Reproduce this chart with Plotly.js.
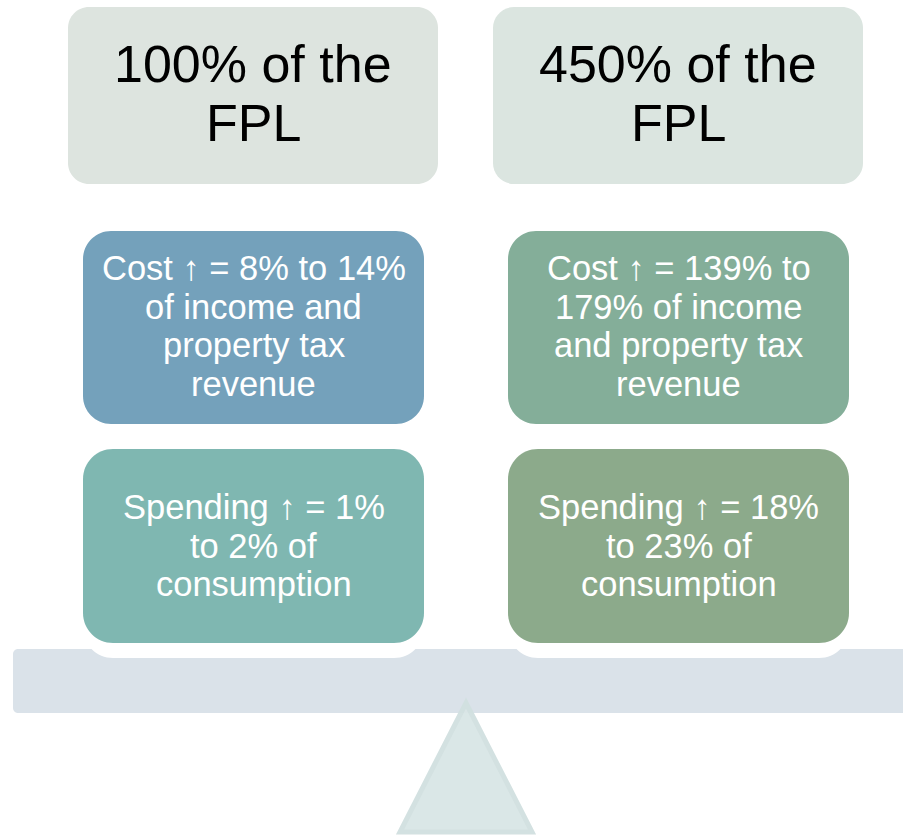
<!DOCTYPE html>
<html>
<head>
<meta charset="utf-8">
<script src="https://cdn.plot.ly/plotly-3.0.1.min.js"></script>
<style>html,body{margin:0;padding:0;background:#fff;overflow:hidden}</style>
</head>
<body>
<div id="chart" style="width:903px;height:836px"></div>
<script>
// ---- data ----
const categories = ["100% of the FPL", "450% of the FPL"];
const headerLines = [["100% of the", "FPL"], ["450% of the", "FPL"]];
const costLines = [
  ["Cost ↑ = 8% to 14%", "of income and", "property tax", "revenue"],
  ["Cost ↑ = 139% to", "179% of income", "and property tax", "revenue"]
];
const spendingLines = [
  ["Spending ↑ = 1%", "to 2% of", "consumption"],
  ["Spending ↑ = 18%", "to 23% of", "consumption"]
];
const headerColors = ["#dde4df", "#dbe5e0"];
const costColors = ["#74a1bb", "#84ae99"];
const spendingColors = ["#7fb7b1", "#8caa8b"];

// ---- layout geometry ----
const FONT = "Liberation Sans, Arial, sans-serif";
const headerBoxes = [[68, 7, 438, 184], [493, 7, 863, 184]];
const costBoxes = [[83, 231, 424, 424], [508, 231, 849, 424]];
const spendBoxes = [[83, 449, 424, 643], [508, 449, 849, 643]];

function rrect(x0, y0, x1, y1, r) {
  const k = 0.5523 * r;
  return `M${x0 + r},${y0} L${x1 - r},${y0} C${x1 - r + k},${y0} ${x1},${y0 + r - k} ${x1},${y0 + r} ` +
    `L${x1},${y1 - r} C${x1},${y1 - r + k} ${x1 - r + k},${y1} ${x1 - r},${y1} ` +
    `L${x0 + r},${y1} C${x0 + r - k},${y1} ${x0},${y1 - r + k} ${x0},${y1 - r} ` +
    `L${x0},${y0 + r} C${x0},${y0 + r - k} ${x0 + r - k},${y0} ${x0 + r},${y0} Z`;
}

const shapes = [];
const annotations = [];

// beam
shapes.push({type: "path", xref: "x", yref: "y", path: rrect(13, 649, 940, 713, 5),
  fillcolor: "#dae2e9", line: {width: 0}, layer: "above"});

// fulcrum
shapes.push({type: "path", xref: "x", yref: "y",
  path: "M466,703 L532,832 L400,832 Z",
  fillcolor: "#d9e6e6", opacity: 0.95, line: {color: "#d1e0e0", width: 5}, layer: "above"});

function addText(lines, box, size, spacing, color, shift) {
  const cx = (box[0] + box[2]) / 2;
  const cy = (box[1] + box[3]) / 2 + shift;
  const n = lines.length;
  lines.forEach((t, i) => {
    annotations.push({
      xref: "x", yref: "y", x: cx, y: cy + (i - (n - 1) / 2) * spacing,
      text: t, showarrow: false, xanchor: "center", yanchor: "middle",
      borderpad: 0, borderwidth: 0,
      font: {family: FONT, size: size, color: color}
    });
  });
}

categories.forEach((c, i) => {
  const hb = headerBoxes[i], cb = costBoxes[i], sb = spendBoxes[i];
  shapes.push({type: "path", xref: "x", yref: "y", path: rrect(hb[0], hb[1], hb[2], hb[3], 21),
    fillcolor: headerColors[i], line: {width: 0}, layer: "above"});
  shapes.push({type: "path", xref: "x", yref: "y", path: rrect(cb[0], cb[1], cb[2], cb[3], 28),
    fillcolor: costColors[i], line: {width: 0}, layer: "above"});
  // white halo behind the lower box, cutting into the beam
  shapes.push({type: "path", xref: "x", yref: "y", path: rrect(sb[0], sb[1], sb[2], sb[3] + 15, 30),
    fillcolor: "#ffffff", line: {width: 0}, layer: "above"});
  shapes.push({type: "path", xref: "x", yref: "y", path: rrect(sb[0], sb[1], sb[2], sb[3], 30),
    fillcolor: spendingColors[i], line: {width: 0}, layer: "above"});

  addText(headerLines[i], hb, 52, 58.5, "#000000", -2);
  addText(costLines[i], cb, 34.5, 38.8, "#ffffff", -1.5);
  addText(spendingLines[i], sb, 34.5, 38.8, "#ffffff", -0.5);
});

const data = [{x: [0], y: [0], type: "scatter", mode: "markers",
  marker: {opacity: 0}, hoverinfo: "skip", showlegend: false}];

const layout = {
  width: 903, height: 836,
  margin: {l: 0, r: 0, t: 0, b: 0, pad: 0},
  paper_bgcolor: "#ffffff", plot_bgcolor: "#ffffff",
  showlegend: false,
  xaxis: {range: [0, 903], visible: false, fixedrange: true},
  yaxis: {range: [836, 0], visible: false, fixedrange: true},
  shapes: shapes,
  annotations: annotations
};

Plotly.newPlot("chart", data, layout, {displayModeBar: false, staticPlot: true});
</script>
</body>
</html>
